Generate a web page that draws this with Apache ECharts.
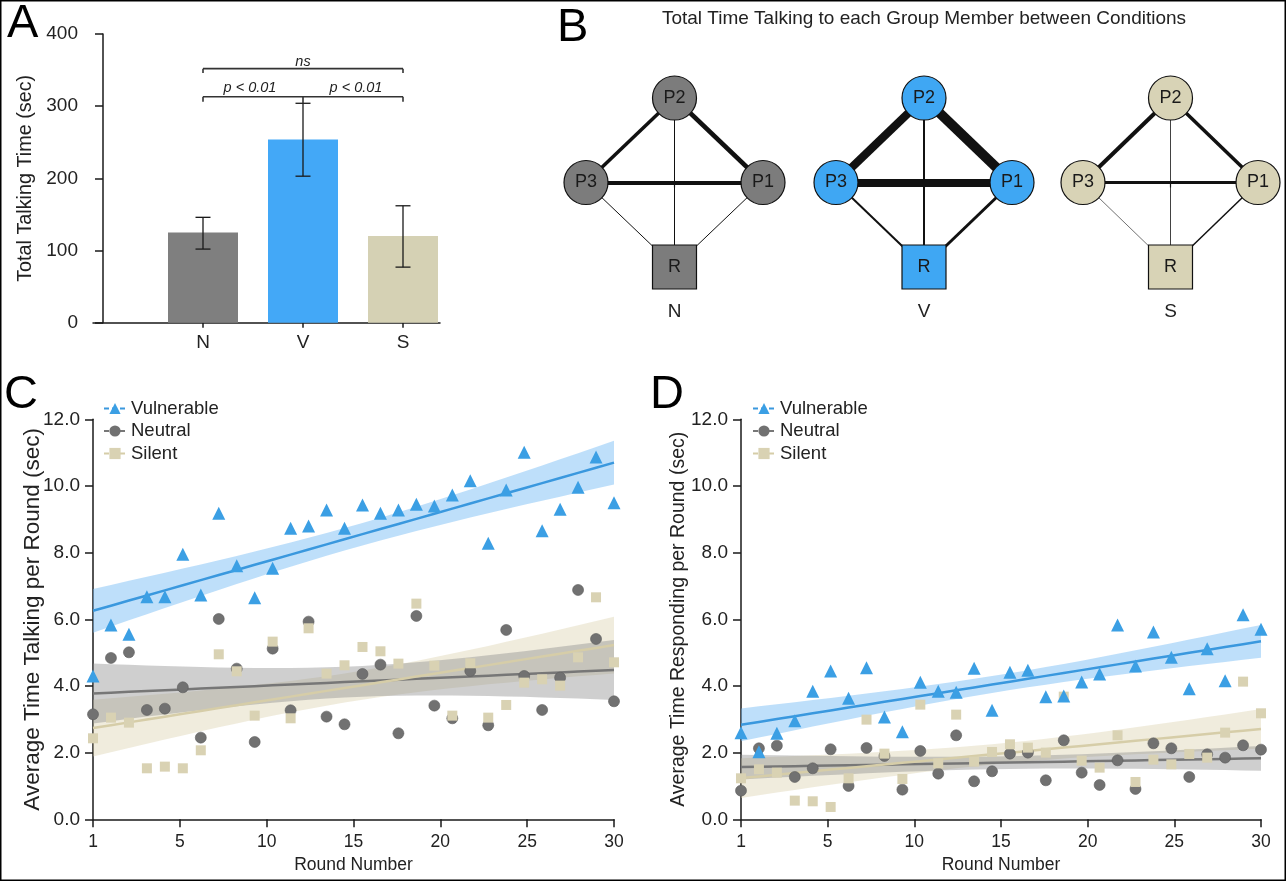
<!DOCTYPE html>
<html><head><meta charset="utf-8">
<script src="https://cdn.jsdelivr.net/npm/echarts@6/dist/echarts.min.js"></script>
<style>html,body{margin:0;padding:0;background:#fff}#c{width:1286px;height:881px}</style>
</head><body><div id="c"></div>
<script>
// ---------- Panel A data ----------
const conditions = ['N', 'V', 'S'];
const totalTalking = [125, 254, 120];
const totalErrLow = [102, 203, 77];
const totalErrHigh = [146, 304, 162];
const bracketRows = [[1, 3, 313, 306], [1, 3, 352, 346]];
const bracketTexts = [[1.47, 325, 'p < 0.01'], [2.53, 325, 'p < 0.01'], [2, 361, 'ns']];

// ---------- Panel B data (edge weights: P2-P3, P2-P1, P3-P1, P2-R, P3-R, P1-R) ----------
const nodeNames = ['P2', 'P3', 'P1', 'R'];
const edgePairs = [[0, 1], [0, 2], [1, 2], [0, 3], [1, 3], [2, 3]];
const edgeWeightN = [3.5, 4.5, 4, 1, 1, 1];
const edgeWeightV = [8, 10, 8, 2, 2, 3];
const edgeWeightS = [4, 3.5, 3, 0.8, 0.6, 1.5];

// ---------- Panels C & D data ----------
const rounds = [1,2,3,4,5,6,7,8,9,10,11,12,13,14,15,16,17,18,19,20,21,22,23,24,25,26,27,28,29,30];
const talkVulnerable = [4.30,5.83,5.55,6.68,6.68,7.95,6.73,9.18,7.61,6.65,7.53,8.73,8.80,9.28,8.73,9.43,9.18,9.28,9.45,9.40,9.73,10.16,8.28,9.88,11.01,8.66,9.30,9.96,10.87,9.50];
const talkNeutral = [3.15,4.84,5.01,3.28,3.32,3.96,2.45,6.01,4.52,2.32,5.12,3.27,5.93,3.08,2.85,4.36,4.64,2.58,6.10,3.41,3.03,4.45,2.82,5.68,4.30,3.28,4.25,6.88,5.41,3.54];
const talkSilent = [2.43,3.05,2.90,1.53,1.58,1.53,2.07,4.95,4.44,3.11,5.33,3.03,5.73,4.37,4.62,5.17,5.04,4.67,6.47,4.61,3.11,4.68,3.05,3.43,4.10,4.20,4.01,4.86,6.66,4.71];
const respVulnerable = [2.60,2.03,2.58,2.96,3.84,4.45,3.63,4.55,3.07,2.63,4.11,3.84,3.81,4.53,3.27,4.41,4.47,3.68,3.70,4.12,4.36,5.83,4.60,5.62,4.86,3.92,5.12,4.16,6.14,5.70];
const respNeutral = [0.86,2.13,2.21,1.27,1.53,2.10,1.00,2.14,1.90,0.89,2.05,1.37,2.52,1.14,1.44,1.97,2.00,1.17,2.37,1.40,1.03,1.77,0.91,2.28,2.13,1.27,1.95,1.85,2.22,2.09];
const respSilent = [1.23,1.50,1.40,0.56,0.54,0.37,1.23,2.99,1.97,1.21,3.44,1.68,3.14,1.73,2.02,2.25,2.15,2.00,3.68,1.76,1.55,2.52,1.12,1.79,1.65,1.96,1.85,2.60,4.13,3.18];

// ---------- styles ----------
const FONT = '"Liberation Sans", Arial, Helvetica, sans-serif';
const INK = '#1a1a1a';
const COL = {
  Vulnerable: { mark: '#3b9fe4', line: '#3a98de', band: 'rgba(110,185,245,0.45)', bar: '#43a8f7', node: '#3fa7f3' },
  Neutral:    { mark: '#717171', line: '#777777', band: 'rgba(140,140,140,0.42)', bar: '#7f7f7f', node: '#7c7c7c' },
  Silent:     { mark: '#d9d2b3', line: '#d6cda8', band: 'rgba(215,205,165,0.38)', bar: '#d5d1b4', node: '#d8d3b6' }
};
const SYM = { Vulnerable: 'triangle', Neutral: 'circle', Silent: 'rect' };
const SYMSIZE = { Vulnerable: 13, Neutral: 11, Silent: 10 };

// linear regression with 95% confidence band of the mean
function fit(xs, ys) {
  const pts = xs.map((x, i) => [x, ys[i]]).filter(p => p[1] != null);
  const n = pts.length;
  const mx = pts.reduce((s, p) => s + p[0], 0) / n;
  const my = pts.reduce((s, p) => s + p[1], 0) / n;
  let sxx = 0, sxy = 0;
  pts.forEach(p => { sxx += (p[0] - mx) ** 2; sxy += (p[0] - mx) * (p[1] - my); });
  const b = sxy / sxx, a = my - b * mx;
  let sse = 0;
  pts.forEach(p => { sse += (p[1] - a - b * p[0]) ** 2; });
  const s2 = sse / (n - 2);
  const t = 2.048;
  const line = [], lo = [], hi = [];
  xs.forEach(x => {
    const yh = a + b * x;
    const se = Math.sqrt(s2 * (1 / n + (x - mx) ** 2 / sxx));
    line.push([x, yh]); lo.push(yh - t * se); hi.push(yh + t * se);
  });
  return { line, lo, hi, xs };
}

const axisLineStyle = { color: INK, width: 1.5 };
const labelStyle = { color: '#222', fontSize: 19, fontFamily: FONT };

function bandSeries(name, xi, yi, f) {
  return {
    type: 'custom', name: name + ' band', xAxisIndex: xi, yAxisIndex: yi, silent: true, z: 1,
    data: [[f.xs[0], f.lo[0]]],
    renderItem: (params, api) => {
      const pts = [];
      f.xs.forEach((x, i) => pts.push(api.coord([x, f.hi[i]])));
      for (let i = f.xs.length - 1; i >= 0; i--) pts.push(api.coord([f.xs[i], f.lo[i]]));
      return { type: 'polygon', shape: { points: pts }, style: { fill: COL[name].band } };
    }
  };
}
function fitLineSeries(name, xi, yi, f) {
  return {
    type: 'line', name, xAxisIndex: xi, yAxisIndex: yi, data: f.line, showSymbol: false,
    symbol: SYM[name], symbolSize: SYMSIZE[name], silent: true, z: 2,
    itemStyle: { color: COL[name].mark }, lineStyle: { color: COL[name].line, width: 2.5 }
  };
}
function scatterSeries(name, xi, yi, vals) {
  return {
    type: 'scatter', name, xAxisIndex: xi, yAxisIndex: yi, z: 3, silent: true,
    data: rounds.map((r, i) => [r, vals[i]]),
    symbol: SYM[name], symbolSize: SYMSIZE[name],
    itemStyle: { color: COL[name].mark, borderColor: name === 'Neutral' ? '#5c5c5c' : 'rgba(0,0,0,0)', borderWidth: 0.6, opacity: 1 }
  };
}

const sets = {
  C: { Vulnerable: talkVulnerable, Neutral: talkNeutral, Silent: talkSilent, xi: 2, yi: 1 },
  D: { Vulnerable: respVulnerable, Neutral: respNeutral, Silent: respSilent, xi: 4, yi: 2 }
};
const series = [];
['C', 'D'].forEach(k => {
  const s = sets[k];
  const fits = {};
  ['Vulnerable', 'Neutral', 'Silent'].forEach(n => fits[n] = fit(rounds, s[n]));
  ['Silent', 'Neutral', 'Vulnerable'].forEach(n => series.push(bandSeries(n, s.xi, s.yi, fits[n])));
  ['Vulnerable', 'Neutral', 'Silent'].forEach(n => series.push(fitLineSeries(n, s.xi, s.yi, fits[n])));
  ['Neutral', 'Silent', 'Vulnerable'].forEach(n => series.push(scatterSeries(n, s.xi, s.yi, s[n])));
});

// Panel A bars
series.push({
  type: 'bar', xAxisIndex: 0, yAxisIndex: 0, barWidth: 70, silent: true,
  data: totalTalking.map((v, i) => ({ value: [i + 1, v], itemStyle: { color: COL[['Neutral', 'Vulnerable', 'Silent'][i]].bar } }))
});
// error bars
series.push({
  type: 'custom', xAxisIndex: 0, yAxisIndex: 0, silent: true, z: 5,
  data: conditions.map((c, i) => [i + 1, totalErrLow[i], totalErrHigh[i]]),
  renderItem: (params, api) => {
    const lo = api.coord([api.value(0), api.value(1)]);
    const hi = api.coord([api.value(0), api.value(2)]);
    const w = 7.5, st = { stroke: INK, lineWidth: 1.3 };
    return { type: 'group', children: [
      { type: 'line', shape: { x1: lo[0], y1: lo[1], x2: hi[0], y2: hi[1] }, style: st },
      { type: 'line', shape: { x1: lo[0] - w, y1: lo[1], x2: lo[0] + w, y2: lo[1] }, style: st },
      { type: 'line', shape: { x1: hi[0] - w, y1: hi[1], x2: hi[0] + w, y2: hi[1] }, style: st }
    ] };
  }
});
// significance brackets
series.push({
  type: 'custom', xAxisIndex: 0, yAxisIndex: 0, silent: true, z: 5,
  data: bracketRows,
  renderItem: (params, api) => {
    const a = api.coord([api.value(0), api.value(2)]);
    const b = api.coord([api.value(1), api.value(2)]);
    const a2 = api.coord([api.value(0), api.value(3)]);
    const b2 = api.coord([api.value(1), api.value(3)]);
    const st = { stroke: '#333', lineWidth: 1.6 };
    const ch = [
      { type: 'line', shape: { x1: a[0], y1: a[1], x2: b[0], y2: b[1] }, style: st },
      { type: 'line', shape: { x1: a[0], y1: a[1], x2: a2[0], y2: a2[1] }, style: st },
      { type: 'line', shape: { x1: b[0], y1: b[1], x2: b2[0], y2: b2[1] }, style: st }
    ];
    if (params.dataIndex === 0) {
      const m = api.coord([2, api.value(2)]);
      const m2 = api.coord([2, totalErrHigh[1]]);
      ch.push({ type: 'line', shape: { x1: m[0], y1: m[1], x2: m2[0], y2: m2[1] }, style: st });
    }
    return { type: 'group', children: ch };
  }
});
series.push({
  type: 'custom', xAxisIndex: 0, yAxisIndex: 0, silent: true, z: 5,
  data: bracketTexts,
  renderItem: (params, api) => {
    const p = api.coord([api.value(0), api.value(1)]);
    return { type: 'text', x: p[0], y: p[1], style: { text: bracketTexts[params.dataIndex][2], fill: '#222', fontSize: 14.5, fontStyle: 'italic', fontFamily: FONT, align: 'center', verticalAlign: 'middle' } };
  }
});

// Panel B diagrams
const nodeLayout = [[0, 1], [-1, 0], [1, 0], [0, -1]];
[['Neutral', edgeWeightN], ['Vulnerable', edgeWeightV], ['Silent', edgeWeightS]].forEach((d, gi) => {
  series.push({
    type: 'graph', coordinateSystem: 'cartesian2d', xAxisIndex: 5 + gi, yAxisIndex: 3 + gi,
    silent: true, z: 4,
    data: nodeNames.map((nm, i) => ({
      name: nm, value: nodeLayout[i],
      symbol: nm === 'R' ? 'rect' : 'circle', symbolSize: 44,
      itemStyle: { color: COL[d[0]].node, borderColor: '#111', borderWidth: 1.2 },
      label: { show: true, position: 'inside', formatter: nm, color: '#1a1a1a', fontSize: 18, fontFamily: FONT }
    })),
    links: edgePairs.map((p, i) => ({ source: p[0], target: p[1], lineStyle: { width: d[1][i] } })),
    lineStyle: { color: '#111', opacity: 1, curveness: 0 }
  });
});

const grids = [
  { left: 93, top: 34, width: 347, height: 288.7 },      // A
  { left: 93, top: 419.3, width: 521, height: 400 },     // C
  { left: 741, top: 419.3, width: 520, height: 400 },    // D
  { left: 586, top: 98, width: 177, height: 169 },       // B-N
  { left: 836, top: 98, width: 176, height: 169 },       // B-V
  { left: 1083, top: 98, width: 175, height: 169 }       // B-S
].map(g => Object.assign({ outerBoundsMode: 'none', containLabel: false }, g));

const roundAxis = (gi) => ({
  type: 'value', gridIndex: gi, min: 0, max: 30, interval: 5,
  name: 'Round Number', nameLocation: 'middle', nameGap: 37,
  nameTextStyle: { fontSize: 17.5, color: '#222', fontFamily: FONT },
  axisLine: { lineStyle: axisLineStyle }, axisTick: { length: 8, lineStyle: axisLineStyle },
  axisLabel: Object.assign({ margin: 14, formatter: v => v === 0 ? String(rounds[0]) : String(v) }, labelStyle, { fontSize: 17.5 }),
  splitLine: { show: false }
});
const valueAxis = (gi, name, gap, nameSize) => ({
  type: 'value', gridIndex: gi, min: 0, max: 12, interval: 2,
  name, nameLocation: 'middle', nameGap: gap, nameMoveOverlap: false,
  nameTextStyle: { fontSize: nameSize, color: '#222', fontFamily: FONT },
  axisLine: { show: true, lineStyle: axisLineStyle }, axisTick: { show: true, length: 8, lineStyle: axisLineStyle },
  axisLabel: Object.assign({ margin: 13, formatter: v => v.toFixed(1) }, labelStyle),
  splitLine: { show: false }
});
const diagAxisX = (gi, lab) => ({
  type: 'value', gridIndex: gi, min: -1, max: 1, offset: 26,
  axisLine: { show: false },
  axisTick: { show: true, length: 5, customValues: [0], lineStyle: { color: INK, width: 1.2 } },
  axisLabel: Object.assign({ margin: 9, customValues: [0], formatter: () => lab }, labelStyle),
  splitLine: { show: false }
});
const diagAxisY = gi => ({ type: 'value', gridIndex: gi, min: -1, max: 1, show: false });

const legendBase = {
  data: ['Vulnerable', 'Neutral', 'Silent'], orient: 'vertical', top: 394, itemWidth: 22, itemHeight: 14, itemGap: 3.5,
  textStyle: { fontSize: 18.5, color: '#222', fontFamily: FONT }, lineStyle: { type: [5, 3] }, selectedMode: false
};

const option = {
  animation: false,
  backgroundColor: '#fff',
  textStyle: { fontFamily: FONT },
  title: [
    { text: 'A', left: 7, top: 1, padding: 0, textStyle: { fontSize: 47, fontWeight: 'normal', color: '#000', fontFamily: FONT } },
    { text: 'B', left: 557, top: 5, padding: 0, textStyle: { fontSize: 47, fontWeight: 'normal', color: '#000', fontFamily: FONT } },
    { text: 'C', left: 4, top: 372, padding: 0, textStyle: { fontSize: 47, fontWeight: 'normal', color: '#000', fontFamily: FONT } },
    { text: 'D', left: 650, top: 372, padding: 0, textStyle: { fontSize: 47, fontWeight: 'normal', color: '#000', fontFamily: FONT } },
    { text: 'Total Time Talking to each Group Member between Conditions', left: 924, top: 9, textAlign: 'center', padding: 0,
      textStyle: { fontSize: 19, fontWeight: 'normal', color: '#222', fontFamily: FONT } }
  ],
  legend: [
    Object.assign({ left: 98 }, legendBase),
    Object.assign({ left: 747 }, legendBase)
  ],
  grid: grids,
  xAxis: [
    { type: 'value', gridIndex: 0, min: -0.1, max: 3.37,
      axisLine: { lineStyle: axisLineStyle },
      axisTick: { length: 5, customValues: [1, 2, 3], lineStyle: axisLineStyle },
      axisLabel: Object.assign({ margin: 11, customValues: [1, 2, 3], formatter: v => conditions[Math.round(v) - 1] }, labelStyle),
      splitLine: { show: false } },
    roundAxis(1),
    { type: 'value', gridIndex: 1, min: rounds[0], max: rounds[rounds.length - 1], show: false },
    roundAxis(2),
    { type: 'value', gridIndex: 2, min: rounds[0], max: rounds[rounds.length - 1], show: false },
    diagAxisX(3, conditions[0]), diagAxisX(4, conditions[1]), diagAxisX(5, conditions[2])
  ],
  yAxis: [
    { type: 'value', gridIndex: 0, min: 0, max: 400, interval: 100,
      name: 'Total Talking Time (sec)', nameLocation: 'middle', nameGap: 57, nameMoveOverlap: false,
      nameTextStyle: { fontSize: 19.8, color: '#222', fontFamily: FONT },
      axisLine: { show: true, lineStyle: axisLineStyle }, axisTick: { show: true, length: 8, lineStyle: axisLineStyle },
      axisLabel: Object.assign({ margin: 15 }, labelStyle), splitLine: { show: false } },
    valueAxis(1, 'Average Time Talking per Round (sec)', 49, 22.5),
    valueAxis(2, 'Average Time Responding per Round (sec)', 52, 19.5),
    diagAxisY(3), diagAxisY(4), diagAxisY(5)
  ],
  graphic: [
    { type: 'rect', shape: { x: 0.75, y: 0.75, width: 1284.5, height: 879.5 }, style: { fill: 'none', stroke: '#000', lineWidth: 1.5 }, silent: true, z: 100 }
  ],
  series
};
const chart = echarts.init(document.getElementById('c'), null, { renderer: 'canvas' });
chart.setOption(option);
</script></body></html>
